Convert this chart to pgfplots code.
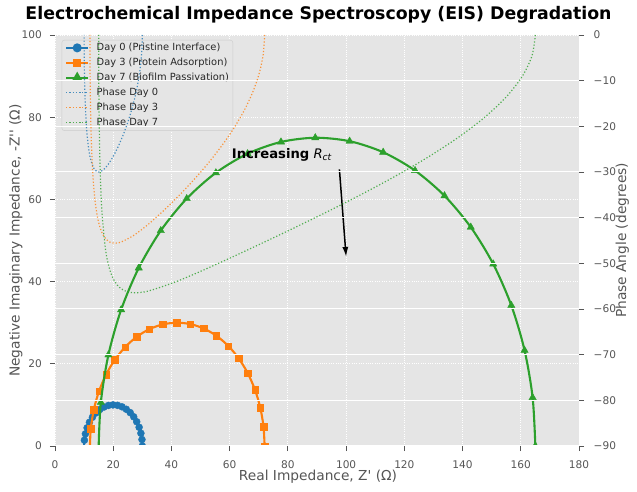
\documentclass[border=0pt]{standalone}
\usepackage{fontspec}
\setmainfont{DejaVu Sans}
\usepackage{pgfplots}
\pgfplotsset{compat=1.18}
\usetikzlibrary{arrows.meta}
\definecolor{c0}{HTML}{1F77B4}
\definecolor{c1}{HTML}{FF7F0E}
\definecolor{c2}{HTML}{2CA02C}
\definecolor{bg}{HTML}{E5E5E5}
\definecolor{tk}{HTML}{555555}
\definecolor{lg}{HTML}{CCCCCC}
\begin{document}
\begin{tikzpicture}
\useasboundingbox (0,0) rectangle (637bp,492bp);
\begin{axis}[
  at={(55bp,46bp)}, anchor=south west,
  width=524bp, height=411bp, scale only axis,
  xmin=0, xmax=180, ymin=0, ymax=100,
  xtick={0,20,...,180}, ytick={0,20,...,100},
  xtick pos=bottom, ytick pos=left,
  axis background/.style={fill=bg},
  axis line style={draw=none},
  tick align=outside, major tick length=5bp,
  tick style={draw=tk, line width=0.8bp},
  grid=major,
  major grid style={draw=white, line width=0.8bp, dash pattern=on 0.8bp off 1.5bp},
  /pgf/number format/assume math mode=true,
  ticklabel style={font=\fontsize{10.6}{12}\selectfont, text=tk, inner sep=0pt},
  xticklabel style={anchor=north, yshift=-9.7bp},
  yticklabel style={anchor=east, xshift=-8bp},
  clip marker paths=true,
  legend cell align=left,
  legend image code/.code={\draw[mark repeat=2,mark phase=2,#1] plot coordinates {(0bp,0bp) (11bp,0bp) (22bp,0bp)};},
  legend style={at={(0.0128,0.988)}, anchor=north west, draw=lg, fill=bg, rounded corners=2.5bp,
    font=\fontsize{9.9}{12}\selectfont, text=black!85, inner xsep=3.3bp, inner ysep=2.5bp, row sep=4.5bp,
    nodes={inner sep=0.5bp, text height=7.3bp, text depth=2.2bp},
    /tikz/every odd column/.append style={column sep=7bp}},
]
\addlegendimage{c0, line width=2bp, mark=*, mark size=3.5bp}
\addlegendentry{Day 0 (Pristine Interface)}
\addlegendimage{c1, line width=2bp, mark=square*, mark size=3.2bp}
\addlegendentry{Day 3 (Protein Adsorption)}
\addlegendimage{c2, line width=2bp, mark=triangle*, mark size=4.2bp}
\addlegendentry{Day 7 (Biofilm Passivation)}
\addlegendimage{c0, opacity=0.8, line width=1.2bp, dash pattern=on 1.2bp off 2bp}
\addlegendentry{Phase Day 0}
\addlegendimage{c1, opacity=0.8, line width=1.2bp, dash pattern=on 1.2bp off 2bp}
\addlegendentry{Phase Day 3}
\addlegendimage{c2, opacity=0.8, line width=1.2bp, dash pattern=on 1.2bp off 2bp}
\addlegendentry{Phase Day 7}

% Day 0
\addplot[c0, line width=2.1bp, smooth, forget plot] coordinates {
(30,0) (29.876,1.572) (29.506,3.105) (28.899,4.561) (28.072,5.903) (27.043,7.099)
(25.840,8.118) (24.491,8.935) (23.030,9.530) (21.494,9.888) (19.921,10.0) (18.350,9.863)
(16.820,9.481) (15.369,8.864) (14.033,8.025) (12.845,6.987) (11.836,5.776) (11.029,4.420)
(10.446,2.955) (10.100,1.416) (10,0)};
\addplot[c0, only marks, mark=*, mark size=3.5bp, forget plot] coordinates {
(30,0) (29.876,1.572) (29.506,3.105) (28.899,4.561) (28.072,5.903) (27.043,7.099)
(25.840,8.118) (24.491,8.935) (23.030,9.530) (21.494,9.888) (19.921,10.0) (18.350,9.863)
(16.820,9.481) (15.369,8.864) (14.033,8.025) (12.845,6.987) (11.836,5.776) (11.029,4.420)
(10.446,2.955) (10.100,1.416)};
% Day 3
\addplot[c1, line width=2.1bp, smooth, forget plot] coordinates {
(72,0) (71.627,4.716) (70.517,9.316) (68.698,13.683) (66.215,17.710) (63.130,21.297)
(59.519,24.354) (55.472,26.806) (51.091,28.590) (46.483,29.664) (41.763,30.0) (37.050,29.590)
(32.459,28.444) (28.106,26.591) (24.098,24.076) (20.536,20.962) (17.507,17.327) (15.087,13.261)
(13.337,8.865) (12.299,4.249) (12,0)};
\addplot[c1, only marks, mark=square*, mark size=3.2bp, forget plot] coordinates {
(72,0) (71.627,4.716) (70.517,9.316) (68.698,13.683) (66.215,17.710) (63.130,21.297)
(59.519,24.354) (55.472,26.806) (51.091,28.590) (46.483,29.664) (41.763,30.0) (37.050,29.590)
(32.459,28.444) (28.106,26.591) (24.098,24.076) (20.536,20.962) (17.507,17.327) (15.087,13.261)
(13.337,8.865) (12.299,4.249)};
% Day 7
\addplot[c2, line width=2.1bp, smooth, forget plot] coordinates {
(165,0) (164.068,11.791) (161.293,23.289) (156.746,34.208) (150.537,44.276) (142.824,53.243)
(133.797,60.885) (123.680,67.014) (112.727,71.476) (101.207,74.160) (89.408,75.0) (77.625,73.975)
(66.149,71.110) (55.265,66.476) (45.245,60.190) (36.339,52.406) (28.767,43.319) (22.718,33.153)
(18.341,22.163) (15.747,10.622) (15,0)};
\addplot[c2, only marks, mark=triangle*, mark size=4.2bp, forget plot] coordinates {
(165,0) (164.068,11.791) (161.293,23.289) (156.746,34.208) (150.537,44.276) (142.824,53.243)
(133.797,60.885) (123.680,67.014) (112.727,71.476) (101.207,74.160) (89.408,75.0) (77.625,73.975)
(66.149,71.110) (55.265,66.476) (45.245,60.190) (36.339,52.406) (28.767,43.319) (22.718,33.153)
(18.341,22.163) (15.747,10.622)};

\node[anchor=base west, inner sep=0pt, font=\fontsize{13.2}{15}\selectfont] at (axis cs:60.7,70.0)
  {\textbf{Increasing} \textit{R}\textsubscript{\textit{ct}}};
\draw[line width=1.5bp, -{Latex[length=10bp,width=6bp]}] (axis cs:97.7,67.3) -- (axis cs:100,46);
\end{axis}

\begin{axis}[
  at={(55bp,46bp)}, anchor=south west,
  width=524bp, height=411bp, scale only axis,
  xmin=0, xmax=180, ymin=-90, ymax=0,
  hide x axis,
  axis line style={draw=none},
  ytick={-90,-80,...,0},
  yticklabels={−90,−80,−70,−60,−50,−40,−30,−20,−10,0},
  ytick pos=right, yticklabel pos=right,
  tick align=outside, major tick length=5bp,
  tick style={draw=tk, line width=0.8bp},
  ymajorgrids, major grid style={draw=white, line width=1bp},
  ticklabel style={font=\fontsize{10.6}{12}\selectfont, text=tk, inner sep=0pt},
  yticklabel style={anchor=west, xshift=9.5bp},
]
\addplot[c0, opacity=0.8, line width=1.2bp, dash pattern=on 1.2bp off 2bp, smooth] coordinates {
(30,0) (29.848,-3.33) (29.397,-6.64) (28.660,-9.90) (27.660,-13.08) (26.428,-16.16) (25.0,-19.11)
(23.420,-21.86) (21.737,-24.38) (20,-26.57) (18.264,-28.33) (16.580,-29.54) (15.0,-30.0)
(13.572,-29.44) (12.340,-27.51) (11.809,-25.91) (11.340,-23.79) (10.937,-21.13) (10.603,-17.88)
(10.341,-14.05) (10.152,-9.71) (10.075,-6.90) (10.038,-4.96) (10.014,-2.99) (10.0015,-1.00) (10,0)};
\addplot[c1, opacity=0.8, line width=1.2bp, dash pattern=on 1.2bp off 2bp, smooth] coordinates {
(72,0) (71.544,-4.17) (70.191,-8.32) (67.981,-12.44) (64.981,-16.53) (61.284,-20.56) (57.0,-24.50)
(52.261,-28.35) (47.210,-32.04) (42,-35.54) (36.791,-38.76) (31.739,-41.61) (27.0,-43.90)
(22.716,-45.33) (20.787,-45.58) (19.019,-45.40) (17.426,-44.64) (16.019,-43.12) (14.811,-40.57)
(13.809,-36.61) (13.022,-30.81) (12.456,-22.70) (12.223,-16.65) (12.114,-12.18) (12.041,-7.43)
(12.018,-4.98) (12.0045,-2.50) (12,0)};
\addplot[c2, opacity=0.8, line width=1.2bp, dash pattern=on 1.2bp off 2bp, smooth] coordinates {
(165,0) (163.861,-4.54) (160.477,-9.08) (154.952,-13.60) (147.453,-18.10) (138.209,-22.57)
(127.5,-26.99) (115.652,-31.36) (103.024,-35.64) (90,-39.81) (76.976,-43.82) (64.349,-47.60)
(52.5,-51.05) (41.791,-53.97) (32.547,-55.98) (28.564,-56.42) (25.048,-56.26) (22.027,-55.20)
(19.523,-52.72) (17.555,-47.87) (16.139,-38.90) (15.559,-30.43) (15.286,-23.15) (15.103,-14.57)
(15.046,-9.87) (15.011,-4.98) (15,0)};
\end{axis}

\node[anchor=base, inner sep=0pt, font=\bfseries\fontsize{17.4}{20}\selectfont] at (318.5bp,472bp)
  {Electrochemical Impedance Spectroscopy (EIS) Degradation};
\node[anchor=base, inner sep=0pt, font=\fontsize{13.8}{16}\selectfont, text=tk] at (318bp,11.3bp)
  {Real Impedance, Z\textquotesingle{} (Ω)};
\node[anchor=base, rotate=90, inner sep=0pt, font=\fontsize{13.8}{16}\selectfont, text=tk] at (19.5bp,251.5bp)
  {Negative Imaginary Impedance, -Z\textquotesingle\textquotesingle{} (Ω)};
\node[anchor=base, rotate=90, inner sep=0pt, font=\fontsize{13.8}{16}\selectfont, text=tk] at (626bp,251.5bp)
  {Phase Angle (degrees)};
\end{tikzpicture}
\end{document}
